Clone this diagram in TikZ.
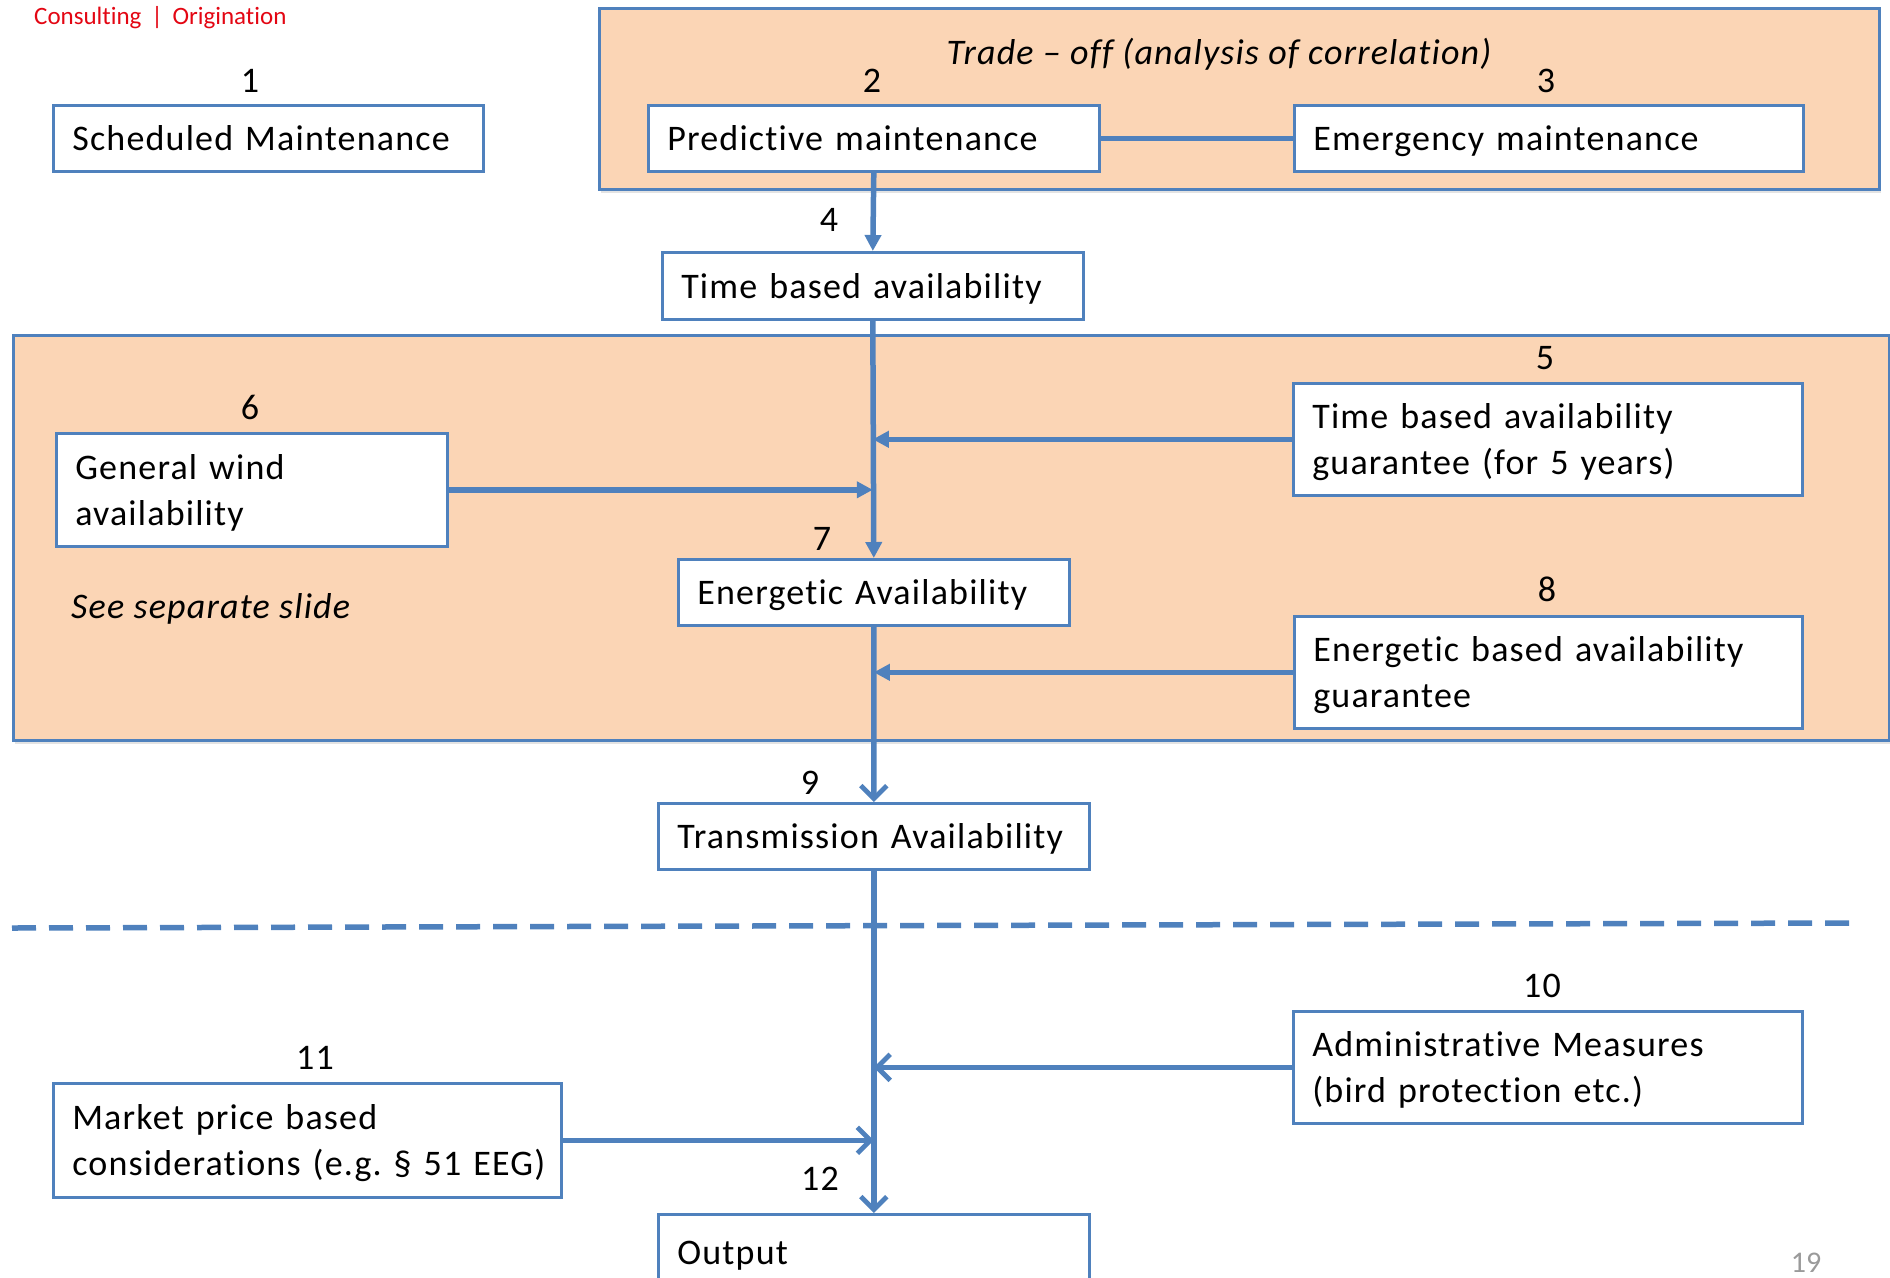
\documentclass[tikz,border=0pt]{standalone}
\usepackage{fontspec}
\setmainfont{Carlito}[Ligatures={NoCommon}]
\newfontfamily\spacedfont{Carlito}[LetterSpace=3.3, Ligatures={NoCommon}]
\usetikzlibrary{arrows.meta,shadows}
\definecolor{bl}{HTML}{4F81BD}
\definecolor{peach}{HTML}{FBD5B5}
\definecolor{brandred}{HTML}{E30613}
\definecolor{pagegray}{HTML}{9A9A9A}
\frenchspacing
\newcommand{\topstrut}{\rule[-12bp]{0pt}{49bp}}
\newcommand{\botstrut}{\rule[-12bp]{0pt}{12bp}}
\tikzset{
  boxst/.style={draw=bl, line width=2.6bp, fill=white, anchor=north west,
    inner xsep=19bp, inner ysep=0pt, align=left,
    font=\spacedfont\fontsize{36bp}{46bp}\selectfont,
    execute at begin node=\topstrut, execute at end node=\botstrut},
  panel/.style={draw=bl, line width=2.6bp, fill=peach, anchor=north west, inner sep=0pt,
    drop shadow={opacity=0.22, shadow xshift=2bp, shadow yshift=-4bp}},
  num/.style={anchor=base, inner sep=0pt, font=\spacedfont\fontsize{36bp}{46bp}\selectfont},
  conn/.style={draw=bl, line width=5.5bp},
  arrF/.style={conn, -{Triangle[length=16bp,width=16bp]}},
  arrO/.style={conn, -{Straight Barb[length=13bp,width=26bp,line width=4.8bp]}},
  itx/.style={inner sep=0pt, font=\spacedfont\fontsize{36bp}{46bp}\selectfont\itshape}
}
\begin{document}
\begin{tikzpicture}[x=1bp,y=-1bp]
\useasboundingbox (0,0) rectangle (1890,1277);

% panels
\node[panel, minimum width=1280bp, minimum height=181bp] (ptop) at (598,7) {};
\node[panel, minimum width=1876bp, minimum height=405bp] (pmid) at (12,334) {};

% header
\node[anchor=base west, inner sep=0pt, text=brandred, font=\fontsize{25bp}{29bp}\selectfont]
  (hdr) at (34,24) {Consulting \,|\, Origination};

% texts on panels
\node[itx, anchor=base] (trade) at (1219,64) {Trade – off (analysis of correlation)};
\node[itx, anchor=base west] (sep) at (71,618) {See separate slide};

% dashed separator
\draw[draw=bl, line width=5.5bp, dash pattern=on 24bp off 13bp] (12,928) coordinate (dl) -- (1850,923) coordinate (dr);

% boxes
\node[boxst, minimum width=430bp, minimum height=66bp, text width=392bp] (b1) at (52,104) {Scheduled Maintenance};
\node[boxst, minimum width=451bp, minimum height=66bp, text width=413bp] (b2) at (647,104) {Predictive maintenance};
\node[boxst, minimum width=509bp, minimum height=66bp, text width=471bp] (b3) at (1293,104) {Emergency maintenance};
\node[boxst, minimum width=421bp, minimum height=67bp, text width=383bp] (b4) at (661,251) {Time based availability};
\node[boxst, minimum width=509bp, minimum height=112bp, text width=471bp] (b5) at (1292,382) {\mbox{Time based availability}\\\mbox{guarantee (for 5 years)}};
\node[boxst, minimum width=391bp, minimum height=113bp, text width=353bp] (b6) at (55,432) {\mbox{General wind}\\\mbox{availability}};
\node[boxst, minimum width=391bp, minimum height=66bp, text width=353bp] (b7) at (677,558) {\mbox{Energetic Availability}};
\node[boxst, minimum width=508bp, minimum height=112bp, text width=470bp] (b8) at (1293,615) {\mbox{Energetic based availability}\\\mbox{guarantee}};
\node[boxst, minimum width=431bp, minimum height=66bp, text width=393bp] (b9) at (657,802) {\mbox{Transmission Availability}};
\node[boxst, minimum width=509bp, minimum height=112bp, text width=471bp] (b10) at (1292,1010) {\mbox{Administrative Measures}\\\mbox{(bird protection etc.)}};
\node[boxst, minimum width=508bp, minimum height=114bp, text width=470bp] (b11) at (52,1082) {\mbox{Market price based}\\\mbox{considerations (e.g. § 51 EEG)}};
\node[boxst, minimum width=431bp, minimum height=76bp, text width=393bp] (b12) at (657,1213) {Output};

% connectors
\draw[conn] (b2.east) -- (b3.west);
\draw[arrF] (b2.south) -- (b4.north);
\draw[arrF] (b4.south) -- (b7.north);
\draw[arrF] (b5.west) -- (b5.west -| b4.south);
\draw[arrF] (b6.east) -- (b6.east -| b4.south);
\draw[arrO] (b7.south) -- (b9.north);
\draw[arrF] (b8.west) -- (b8.west -| b7.south);
\draw[arrO] (b9.south) -- (b12.north);
\draw[arrO] (b10.west) -- (b10.west -| b9.south);
\draw[arrO] (b11.east) -- (b11.east -| b9.south);

% numbers
\node[num] (n1) at (250,92) {1};
\node[num] (n2) at (872,92) {2};
\node[num] (n3) at (1546,92) {3};
\node[num] (n4) at (829,231) {4};
\node[num] (n5) at (1545,369) {5};
\node[num] (n6) at (250,419) {6};
\node[num] (n7) at (822,550) {7};
\node[num] (n8) at (1547,601) {8};
\node[num] (n9) at (810,794) {9};
\node[num] (n10) at (1542,997) {10};
\node[num] (n11) at (315,1069) {11};
\node[num] (n12) at (820,1190) {12};

% page number
\node[anchor=base, inner sep=0pt, text=pagegray, font=\fontsize{30bp}{34bp}\selectfont] (pg) at (1806,1272) {19};
\end{tikzpicture}
\end{document}
